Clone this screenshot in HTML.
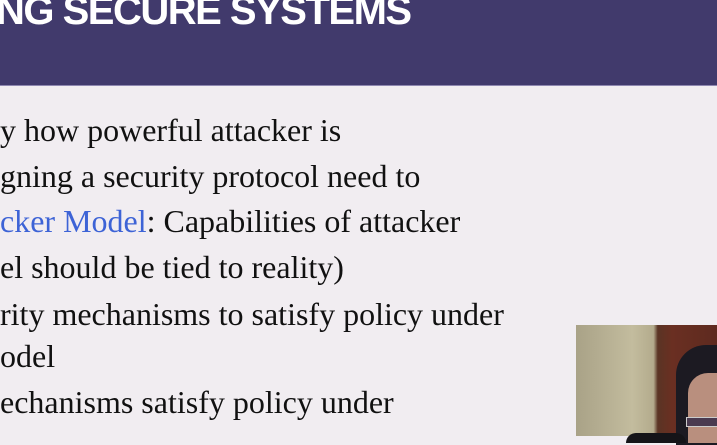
<!DOCTYPE html>
<html><head><style>
body{margin:0;width:717px;height:436px;overflow:hidden;background:#f1edf1;position:relative;font-family:"Liberation Serif",serif}
#hd{position:absolute;left:0;top:0;width:717px;height:85px;background:#413a6c;border-bottom:1px solid #8e87b0}
#ttl{position:absolute;left:-4px;top:-11px;color:#fff;font:bold 40px "Liberation Sans",sans-serif;letter-spacing:-1.5px;white-space:nowrap}
.l{position:absolute;left:0;font-size:32px;color:#111;white-space:nowrap}
.b{color:#3d63d6}
#cam{position:absolute;left:576px;top:325px;width:141px;height:111px;background:linear-gradient(90deg,#a9a287 0,#c3bc9e 40%,#b3ab8c 55%,#5a3424 58%,#6a2f22 68%,#5e2a1f 100%)}
</style></head><body>
<div id="hd"><div id="ttl">NG SECURE SYSTEMS</div></div>
<div class="l" style="top:112px">y how powerful attacker is</div>
<div class="l" style="top:158px">gning a security protocol need to</div>
<div class="l" style="top:203px"><span class="b">cker Model</span>: Capabilities of attacker</div>
<div class="l" style="top:249px">el should be tied to reality)</div>
<div class="l" style="top:296px">rity mechanisms to satisfy policy under</div>
<div class="l" style="top:338px">odel</div>
<div class="l" style="top:384px">echanisms satisfy policy under</div>
<div id="cam">
<div style="position:absolute;left:100px;top:20px;width:60px;height:100px;border-radius:30px 0 0 0;background:#1c1a22"></div>
<div style="position:absolute;left:112px;top:48px;width:40px;height:70px;border-radius:20px 0 0 0;background:#b98f7e"></div>
<div style="position:absolute;left:110px;top:92px;width:35px;height:8px;border:1px solid #ccc;background:#4a3a50"></div>
<div style="position:absolute;left:50px;top:108px;width:60px;height:10px;border-radius:10px 10px 0 0;background:#151418"></div>
</div>
</body></html>
